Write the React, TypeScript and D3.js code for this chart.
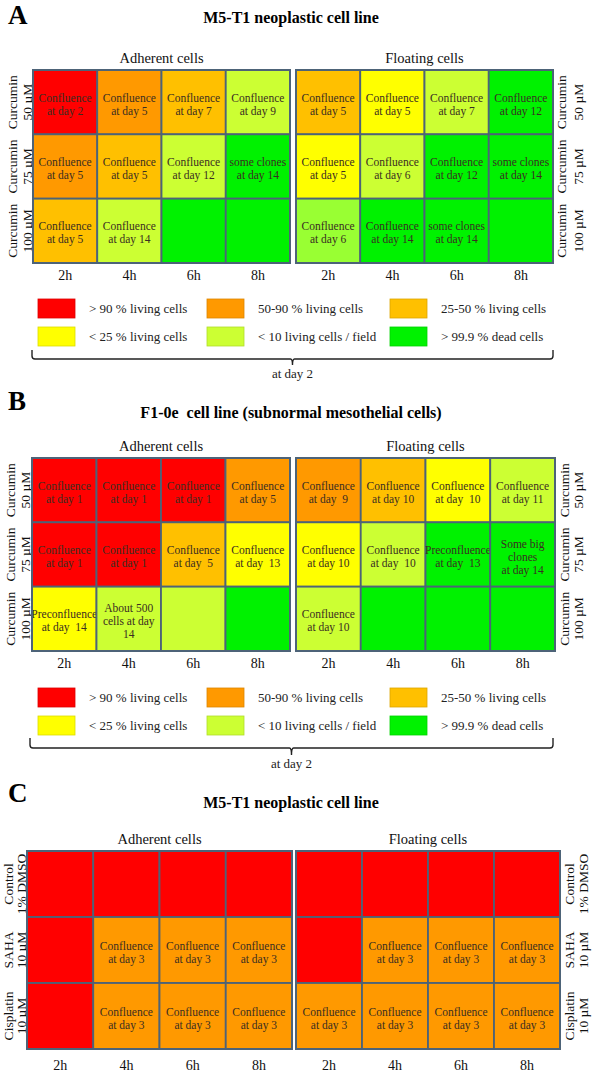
import React from "react";
import * as d3 from "d3";

// ---------- data ----------
const timepoints = ["2h", "4h", "6h", "8h"];
const groupNames = ["Adherent cells", "Floating cells"];

const statusKeys = ["r", "o", "a", "y", "l", "m", "g"];
const statusColors = ["#ff0000", "#ff9900", "#ffc000", "#ffff00", "#ccff33", "#99ff33", "#00f200"];

const legendKeys = ["r", "o", "a", "y", "l", "g"];
const legendLabels = [
  "> 90 % living cells",
  "50-90 % living cells",
  "25-50 % living cells",
  "< 25 % living cells",
  "< 10 living cells / field",
  "> 99.9 % dead cells",
];
const braceLabel = "at day 2";

// Panel A
const titleA = "M5-T1 neoplastic cell line";
const rowsA = [["Curcumin", "50 µM"], ["Curcumin", "75 µM"], ["Curcumin", "100 µM"]];
const statusA_adh = [["r", "o", "a", "l"], ["o", "a", "l", "g"], ["a", "l", "g", "g"]];
const notesA_adh = [
  ["Confluence|at day 2", "Confluence|at day 5", "Confluence|at day 7", "Confluence|at day 9"],
  ["Confluence|at day 5", "Confluence|at day 5", "Confluence|at day 12", "some clones|at day 14"],
  ["Confluence|at day 5", "Confluence|at day 14", "", ""],
];
const statusA_flo = [["a", "y", "l", "g"], ["y", "l", "g", "g"], ["m", "g", "g", "g"]];
const notesA_flo = [
  ["Confluence|at day 5", "Confluence|at day 5", "Confluence|at day 7", "Confluence|at day 12"],
  ["Confluence|at day 5", "Confluence|at day 6", "Confluence|at day 12", "some clones|at day 14"],
  ["Confluence|at day 6", "Confluence|at day 14", "some clones|at day 14", ""],
];

// Panel B
const titleB = "F1-0e  cell line (subnormal mesothelial cells)";
const rowsB = [["Curcumin", "50 µM"], ["Curcumin", "75 µM"], ["Curcumin", "100 µM"]];
const statusB_adh = [["r", "r", "r", "o"], ["r", "r", "a", "y"], ["y", "l", "l", "g"]];
const notesB_adh = [
  ["Confluence|at day 1", "Confluence|at day 1", "Confluence|at day 1", "Confluence|at day 5"],
  ["Confluence|at day 1", "Confluence|at day 1", "Confluence|at day  5", "Confluence|at day  13"],
  ["Preconfluence|at day  14", "About 500|cells at day|14", "", ""],
];
const statusB_flo = [["o", "a", "y", "l"], ["y", "l", "g", "g"], ["l", "g", "g", "g"]];
const notesB_flo = [
  ["Confluence|at day  9", "Confluence|at day 10", "Confluence|at day  10", "Confluence|at day 11"],
  ["Confluence|at day 10", "Confluence|at day  10", "Preconfluence|at day  13", "Some big|clones|at day 14"],
  ["Confluence|at day 10", "", "", ""],
];

// Panel C
const titleC = "M5-T1 neoplastic cell line";
const rowsC = [["Control", "1% DMSO"], ["SAHA", "10 µM"], ["Cisplatin", "10 µM"]];
const statusC_adh = [["r", "r", "r", "r"], ["r", "o", "o", "o"], ["r", "o", "o", "o"]];
const notesC_adh = [
  ["", "", "", ""],
  ["", "Confluence|at day 3", "Confluence|at day 3", "Confluence|at day 3"],
  ["", "Confluence|at day 3", "Confluence|at day 3", "Confluence|at day 3"],
];
const statusC_flo = [["r", "r", "r", "r"], ["r", "o", "o", "o"], ["o", "o", "o", "o"]];
const notesC_flo = [
  ["", "", "", ""],
  ["", "Confluence|at day 3", "Confluence|at day 3", "Confluence|at day 3"],
  ["Confluence|at day 3", "Confluence|at day 3", "Confluence|at day 3", "Confluence|at day 3"],
];

// ---------- styling / layout ----------
const FONT = "'Liberation Serif', 'Times New Roman', serif";
const GRID_STROKE = "#4d6378";
const color = d3.scaleOrdinal<string, string>().domain(statusKeys).range(statusColors);

type Layout = {
  letter: string;
  letterY: number;
  title: string;
  titleY: number;
  top: number;
  bottom: number;
  adh: [number, number];
  flo: [number, number];
  xLabelY: number;
  leftLab: [number, number];
  rightLab: [number, number];
  rows: string[][];
  adhStatus: string[][];
  adhNotes: string[][];
  floStatus: string[][];
  floNotes: string[][];
  legend?: { y: number; braceTop: number; braceY: number; tickY: number; dayY: number; x0: number; x1: number };
};

const layouts: Layout[] = [
  {
    letter: "A", letterY: 24, title: titleA, titleY: 23, top: 70, bottom: 263,
    adh: [33, 290], flo: [296, 553], xLabelY: 280, leftLab: [12, 27], rightLab: [561, 578],
    rows: rowsA, adhStatus: statusA_adh, adhNotes: notesA_adh, floStatus: statusA_flo, floNotes: notesA_flo,
    legend: { y: 299, braceTop: 350, braceY: 359, tickY: 365, dayY: 378, x0: 32, x1: 553 },
  },
  {
    letter: "B", letterY: 410, title: titleB, titleY: 418, top: 458, bottom: 651,
    adh: [32, 290], flo: [296, 555], xLabelY: 668, leftLab: [10, 25], rightLab: [564, 578],
    rows: rowsB, adhStatus: statusB_adh, adhNotes: notesB_adh, floStatus: statusB_flo, floNotes: notesB_flo,
    legend: { y: 688, braceTop: 738, braceY: 748, tickY: 755, dayY: 768, x0: 30, x1: 553 },
  },
  {
    letter: "C", letterY: 802, title: titleC, titleY: 808, top: 851, bottom: 1049,
    adh: [27, 292], flo: [296, 560], xLabelY: 1070, leftLab: [8, 21], rightLab: [569, 583],
    rows: rowsC, adhStatus: statusC_adh, adhNotes: notesC_adh, floStatus: statusC_flo, floNotes: notesC_flo,
  },
];

function Grid({ x0, x1, top, bottom, status, notes, header, xLabelY }: any) {
  const x = d3.scaleBand<string>().domain(timepoints).range([x0, x1]);
  const y = d3.scaleBand<number>().domain(d3.range(status.length)).range([top, bottom]);
  const lh = 13;
  return (
    <g>
      <text x={(x0 + x1) / 2} y={top - 7} textAnchor="middle" fontSize={14.5} fontFamily={FONT} fill="#111">
        {header}
      </text>
      {status.map((row: string[], ri: number) =>
        row.map((s: string, ci: number) => {
          const cx = x(timepoints[ci])!;
          const cy = y(ri)!;
          const lines = notes[ri][ci] ? notes[ri][ci].split("|") : [];
          const midY = cy + y.bandwidth() / 2 + 2;
          const startY = midY - ((lines.length - 1) * lh) / 2;
          return (
            <g key={`${ri}-${ci}`}>
              <rect x={cx} y={cy} width={x.bandwidth()} height={y.bandwidth()} fill={color(s)} stroke={GRID_STROKE} strokeWidth={1.8} />
              {lines.map((ln, li) => (
                <text
                  key={li}
                  x={cx + x.bandwidth() / 2}
                  y={startY + li * lh}
                  dy="0.35em"
                  textAnchor="middle"
                  fontSize={11.5}
                  fontFamily={FONT}
                  fill="#3a2e22"
                  style={{ whiteSpace: "pre" }}
                >
                  {ln}
                </text>
              ))}
            </g>
          );
        })
      )}
      <rect x={x0} y={top} width={x1 - x0} height={bottom - top} fill="none" stroke={GRID_STROKE} strokeWidth={2} />
      {timepoints.map((t) => (
        <text key={t} x={x(t)! + x.bandwidth() / 2} y={xLabelY} textAnchor="middle" fontSize={14} fontFamily={FONT} fill="#111">
          {t}
        </text>
      ))}
    </g>
  );
}

function RowLabels({ rows, top, bottom, xs }: any) {
  const y = d3.scaleBand<number>().domain(d3.range(rows.length)).range([top, bottom]);
  return (
    <g>
      {rows.map((r: string[], i: number) => {
        const cy = y(i)! + y.bandwidth() / 2;
        return r.map((t, j) => (
          <text
            key={`${i}-${j}`}
            transform={`translate(${xs[j]},${cy}) rotate(-90)`}
            textAnchor="middle"
            dy="0.35em"
            fontSize={13.5}
            fontFamily={FONT}
            fill="#111"
          >
            {t}
          </text>
        ));
      })}
    </g>
  );
}

function Legend({ lg }: any) {
  const colX = d3.scaleOrdinal<number, number>().domain([0, 1, 2]).range([38, 207, 390]);
  const rowY = d3.scaleOrdinal<number, number>().domain([0, 1]).range([lg.y, lg.y + 28]);
  const sw = 37, sh = 19;
  const mid = (lg.x0 + lg.x1) / 2;
  return (
    <g>
      {legendKeys.map((k, i) => {
        const cx = colX(i % 3);
        const cy = rowY(Math.floor(i / 3));
        return (
          <g key={k}>
            <rect x={cx} y={cy} width={sw} height={sh} fill={color(k)} stroke={d3.color(color(k))!.darker(0.4).toString()} strokeWidth={0.8} />
            <text x={cx + sw + 14} y={cy + sh / 2} dy="0.35em" fontSize={13} fontFamily={FONT} fill="#222">
              {legendLabels[i]}
            </text>
          </g>
        );
      })}
      <path
        d={`M${lg.x0},${lg.braceTop} L${lg.x0},${lg.braceY - 3} Q${lg.x0},${lg.braceY} ${lg.x0 + 3},${lg.braceY} L${mid - 2},${lg.braceY} Q${mid},${lg.braceY} ${mid},${lg.tickY} Q${mid},${lg.braceY} ${mid + 2},${lg.braceY} L${lg.x1 - 3},${lg.braceY} Q${lg.x1},${lg.braceY} ${lg.x1},${lg.braceY - 3} L${lg.x1},${lg.braceTop}`}
        fill="none"
        stroke="#222"
        strokeWidth={1.4}
      />
      <text x={mid} y={lg.dayY} textAnchor="middle" fontSize={13} fontFamily={FONT} fill="#222">
        {braceLabel}
      </text>
    </g>
  );
}

function Panel({ L }: { L: Layout }) {
  return (
    <g>
      <text x={8} y={L.letterY} fontSize={27} fontWeight="bold" fontFamily={FONT} fill="#000">
        {L.letter}
      </text>
      <text x={291} y={L.titleY} textAnchor="middle" fontSize={16} fontWeight="bold" fontFamily={FONT} fill="#000" style={{ whiteSpace: "pre" }}>
        {L.title}
      </text>
      <RowLabels rows={L.rows} top={L.top} bottom={L.bottom} xs={L.leftLab} />
      <RowLabels rows={L.rows} top={L.top} bottom={L.bottom} xs={L.rightLab} />
      <Grid x0={L.adh[0]} x1={L.adh[1]} top={L.top} bottom={L.bottom} status={L.adhStatus} notes={L.adhNotes} header={groupNames[0]} xLabelY={L.xLabelY} />
      <Grid x0={L.flo[0]} x1={L.flo[1]} top={L.top} bottom={L.bottom} status={L.floStatus} notes={L.floNotes} header={groupNames[1]} xLabelY={L.xLabelY} />
      {L.legend && <Legend lg={L.legend} />}
    </g>
  );
}

export default function App() {
  return (
    <svg
      width={592}
      height={1072}
      viewBox="0 0 592 1072"
      style={{ position: "absolute", left: 0, top: 0, background: "#fff" }}
    >
      <rect width={592} height={1072} fill="#fff" />
      {layouts.map((L) => (
        <Panel key={L.letter} L={L} />
      ))}
    </svg>
  );
}
